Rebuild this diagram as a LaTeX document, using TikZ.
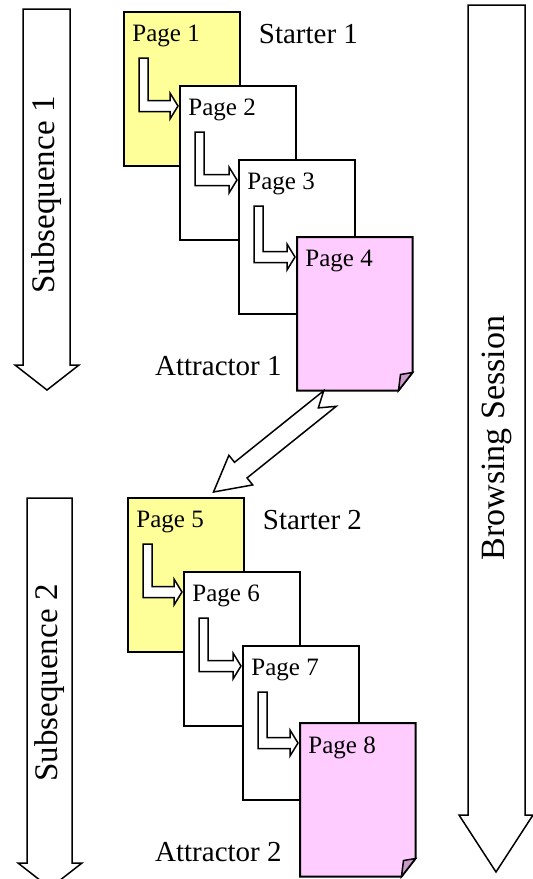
\documentclass[tikz,border=0pt]{standalone}
\usepackage{fontspec}
\setmainfont{Liberation Serif}
\usetikzlibrary{calc}
\definecolor{StartC}{HTML}{FFFF99}
\definecolor{AttrC}{HTML}{FFCCFF}
\definecolor{FoldC}{HTML}{CC99CC}
\tikzset{
  page/.style={draw=black,line width=1pt,anchor=north west,inner sep=0pt,outer sep=0pt,
    minimum width=57.75pt,minimum height=76.75pt},
  pagetext/.style={anchor=north west,inner sep=0pt,font=\fontsize{12.5}{14}\selectfont},
  role/.style={inner sep=0pt,font=\fontsize{14.5}{17}\selectfont},
  hollow/.style={draw=black,fill=white,line width=.75pt,line join=miter},
  flow/.style={inner sep=0pt,rotate=90,font=\fontsize{16.5}{19}\selectfont},
}
% hollow L-shaped step arrow from one page into the next
\newcommand{\pagestep}[2]{%
  \coordinate (sa) at ($(#1.north west)+(15,46)$);
  \coordinate (ta) at ($(#2.north west)+(-2,20)$);
  \draw[hollow] (sa) -- ++(9,0) |- ($(ta)+(-8,-5.5)$) -- ($(ta)+(-8,-13)$) -- (ta)
    -- ($(ta)+(-8,13)$) -- ($(ta)+(-8,5.5)$) -| (sa) -- cycle;}

\begin{document}
\begin{tikzpicture}[x=0.5pt,y=-0.5pt]
\useasboundingbox (0,0) rectangle (533,879);

% ================= big arrows =================
\draw[hollow] (468,5) -- (525,5) -- (525,815) -- (533,815) -- (496,872)
  -- (459,815) -- (468,815) -- cycle;
\node[flow,font=\fontsize{17}{20}\selectfont] (sess) at (497,438) {Browsing Session};

\draw[hollow] (23,9) -- (70,9) -- (70,365) -- (79,365) -- (47,390)
  -- (15,365) -- (23,365) -- cycle;
\node[flow] (sub1) at (47,195) {Subsequence 1};

\draw[hollow] (27,498) -- (72,498) -- (72,863) -- (82,863) -- (50,888)
  -- (18,863) -- (27,863) -- cycle;
\node[flow] (sub2) at (50,683) {Subsequence 2};

% ================= subsequence 1 =================
\foreach \i/\x/\y/\c in {1/124/12/StartC,2/180/86/white,3/239/160/white}{
  \node[page,fill=\c] (p\i) at (\x,\y) {};
  \node[pagetext] (t\i) at ($(p\i.north west)+(8,13)$) {Page \i};}
\node[page,draw=none] (p4) at (297,237) {};
\draw[line width=1pt,fill=AttrC] (p4.north west) -- (p4.north east)
  -- ($(p4.south east)+(0,-18)$) -- ($(p4.south east)+(-14,0)$) -- (p4.south west) -- cycle;
\draw[line width=.75pt,fill=FoldC] ($(p4.south east)+(0,-18)$)
  -- ($(p4.south east)+(-12,-16)$) -- ($(p4.south east)+(-14,0)$) -- cycle;
\node[pagetext] (t4) at ($(p4.north west)+(8,13)$) {Page 4};
\pagestep{p1}{p2}
\pagestep{p2}{p3}
\pagestep{p3}{p4}
\node[role,anchor=north west] (st1) at ($(p1.north east)+(19,12)$) {Starter 1};
\node[role,anchor=base east] (at1) at ($(p4.south west)+(-15,-15)$) {Attractor 1};

% ================= subsequence 2 =================
\foreach \i/\x/\y/\c in {5/128/498/StartC,6/184/572/white,7/243/646/white}{
  \node[page,fill=\c] (p\i) at (\x,\y) {};
  \node[pagetext] (t\i) at ($(p\i.north west)+(8,13)$) {Page \i};}
\node[page,draw=none] (p8) at (300,723) {};
\draw[line width=1pt,fill=AttrC] (p8.north west) -- (p8.north east)
  -- ($(p8.south east)+(0,-18)$) -- ($(p8.south east)+(-14,0)$) -- (p8.south west) -- cycle;
\draw[line width=.75pt,fill=FoldC] ($(p8.south east)+(0,-18)$)
  -- ($(p8.south east)+(-12,-16)$) -- ($(p8.south east)+(-14,0)$) -- cycle;
\node[pagetext] (t8) at ($(p8.north west)+(8,13)$) {Page 8};
\pagestep{p5}{p6}
\pagestep{p6}{p7}
\pagestep{p7}{p8}
\node[role,anchor=north west] (st2) at ($(p5.north east)+(19,12)$) {Starter 2};
\node[role,anchor=base east] (at2) at ($(p8.south west)+(-18,-15)$) {Attractor 2};

% ================= attractor 1 -> starter 2 =================
\coordinate (jt) at ($(p4.south west)+(33,8)$);
\coordinate (jh) at ($(p5.north east)+(-30,-6)$);
\coordinate (jb) at ($(jh)!17.5pt!(jt)$);
\draw[hollow] ($(jt)!5pt!90:(jh)$) -- ($(jb)!5pt!90:(jh)$) -- ($(jb)!9.5pt!90:(jh)$)
  -- (jh) -- ($(jb)!9.5pt!-90:(jh)$) -- ($(jb)!5pt!-90:(jh)$) -- ($(jt)!5pt!-90:(jh)$)
  -- ($(jt)!7.5pt!(jh)$) -- cycle;
\end{tikzpicture}
\end{document}
